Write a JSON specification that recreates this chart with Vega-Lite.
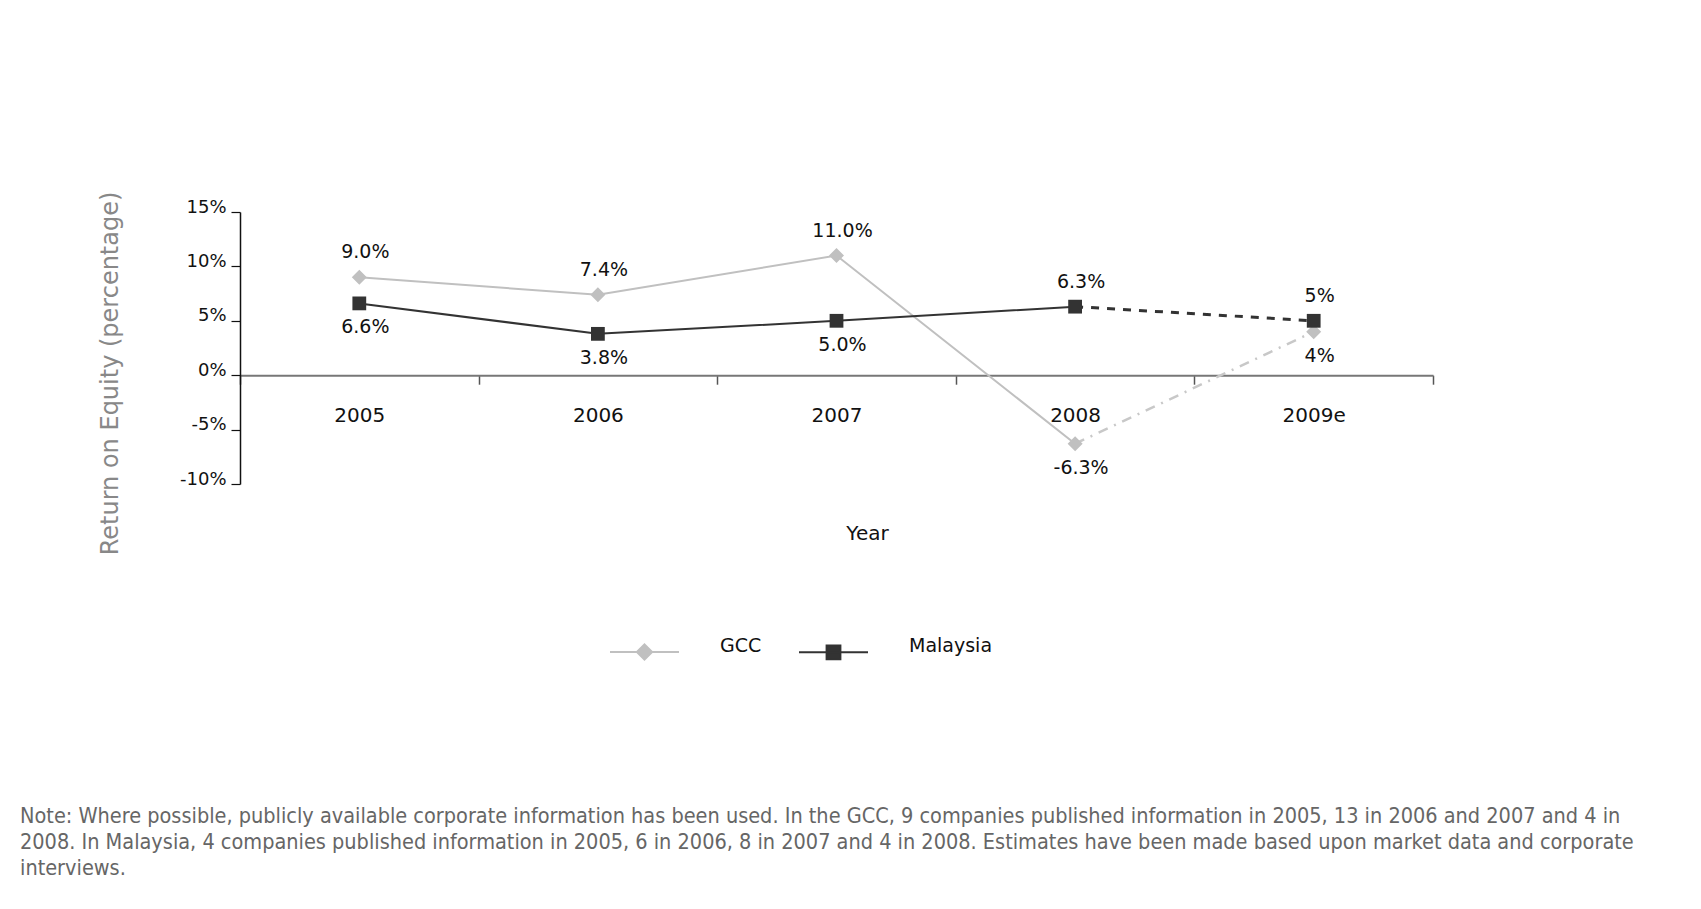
{
  "$schema": "https://vega.github.io/schema/vega-lite/v6.json",
  "autosize": "none",
  "width": 1193,
  "height": 272,
  "padding": {"left": 240, "top": 212, "right": 268, "bottom": 425},
  "background": "white",
  "config": {"view": {"stroke": null}, "font": "DejaVu Sans"},
  "title": {
    "text": [
      "Note: Where possible, publicly available corporate information has been used. In the GCC, 9 companies published information in 2005, 13 in 2006 and 2007 and 4 in",
      "2008. In Malaysia, 4 companies published information in 2005, 6 in 2006, 8 in 2007 and 4 in 2008. Estimates have been made based upon market data and corporate",
      "interviews."
    ],
    "orient": "bottom",
    "anchor": "start",
    "frame": "group",
    "dx": -220,
    "offset": 142,
    "font": "Liberation Sans Narrow, DejaVu Sans Condensed, Lato",
    "fontSize": 21.5,
    "fontWeight": "normal",
    "color": "#666666",
    "lineHeight": 26
  },
  "data": {
    "values": [
      {"year": "2005", "series": "GCC", "roe": 9.0, "label": "9.0%"},
      {"year": "2006", "series": "GCC", "roe": 7.4, "label": "7.4%"},
      {"year": "2007", "series": "GCC", "roe": 11.0, "label": "11.0%"},
      {"year": "2008", "series": "GCC", "roe": -6.3, "label": "-6.3%"},
      {"year": "2009e", "series": "GCC", "roe": 4, "label": "4%"},
      {"year": "2005", "series": "Malaysia", "roe": 6.6, "label": "6.6%"},
      {"year": "2006", "series": "Malaysia", "roe": 3.8, "label": "3.8%"},
      {"year": "2007", "series": "Malaysia", "roe": 5.0, "label": "5.0%"},
      {"year": "2008", "series": "Malaysia", "roe": 6.3, "label": "6.3%"},
      {"year": "2009e", "series": "Malaysia", "roe": 5, "label": "5%"}
    ]
  },
  "encoding": {
    "x": {
      "field": "year",
      "type": "ordinal",
      "bandPosition": 0.5,
      "scale": {"type": "band", "domain": ["2005", "2006", "2007", "2008", "2009e"], "paddingInner": 0, "paddingOuter": 0},
      "axis": {
        "title": "Year",
        "orient": "bottom",
        "offset": -108.8,
        "domainColor": "#777777",
        "domainWidth": 2,
        "tickColor": "#555555",
        "tickSize": 9,
        "tickWidth": 1.5,
        "tickBand": "extent",
        "labelAngle": 0,
        "labelFontSize": 20,
        "labelColor": "#111111",
        "labelPadding": 21,
        "titleFontSize": 20,
        "titleFontWeight": "normal",
        "titleColor": "#111111",
        "titleX": 627,
        "titleY": 158,
        "titleBaseline": "middle",
        "grid": false
      }
    },
    "y": {
      "field": "roe",
      "type": "quantitative",
      "scale": {"domain": [-10, 15], "nice": false, "zero": false},
      "axis": {
        "title": "Return on Equity (percentage)",
        "values": [-10, -5, 0, 5, 10, 15],
        "labelExpr": "datum.value + '%'",
        "domainColor": "#111111",
        "domainWidth": 1.5,
        "tickColor": "#111111",
        "tickSize": 9,
        "tickWidth": 1.2,
        "labelFontSize": 18,
        "labelColor": "#111111",
        "labelPadding": 5,
        "labelBaseline": "alphabetic",
        "grid": false,
        "titleFontSize": 24,
        "titleColor": "#888888",
        "titleFontWeight": "normal",
        "titleX": -130,
        "titleY": 161,
        "titleAngle": -90,
        "titleBaseline": "middle",
        "titleAlign": "center"
      }
    }
  },
  "layer": [
    {
      "transform": [{"filter": "datum.series == 'GCC' && datum.year != '2009e'"}],
      "mark": {"type": "line", "color": "#c0c0c0", "strokeWidth": 2}
    },
    {
      "transform": [{"filter": "datum.series == 'GCC' && (datum.year == '2008' || datum.year == '2009e')"}],
      "mark": {"type": "line", "color": "#c8c8c8", "strokeWidth": 2.5, "strokeDash": [10, 7, 2, 7]}
    },
    {
      "transform": [{"filter": "datum.series == 'Malaysia' && datum.year != '2009e'"}],
      "mark": {"type": "line", "color": "#333333", "strokeWidth": 2}
    },
    {
      "transform": [{"filter": "datum.series == 'Malaysia' && (datum.year == '2008' || datum.year == '2009e')"}],
      "mark": {"type": "line", "color": "#333333", "strokeWidth": 3, "strokeDash": [8, 8]}
    },
    {
      "transform": [{"filter": "datum.series == 'GCC'"}],
      "mark": {"type": "point", "shape": "diamond", "filled": true, "size": 225, "color": "#c0c0c0", "opacity": 1}
    },
    {
      "transform": [{"filter": "datum.series == 'Malaysia'"}],
      "mark": {"type": "point", "shape": "square", "filled": true, "size": 190, "color": "#333333", "opacity": 1}
    },
    {
      "transform": [{"filter": "(datum.series == 'GCC' && datum.year != '2008' && datum.year != '2009e') || (datum.series == 'Malaysia' && (datum.year == '2008' || datum.year == '2009e'))"}],
      "mark": {"type": "text", "fontSize": 19, "color": "#111111", "dx": 6, "dy": -25, "baseline": "middle"},
      "encoding": {"text": {"field": "label"}}
    },
    {
      "transform": [{"filter": "!((datum.series == 'GCC' && datum.year != '2008' && datum.year != '2009e') || (datum.series == 'Malaysia' && (datum.year == '2008' || datum.year == '2009e')))"}],
      "mark": {"type": "text", "fontSize": 19, "color": "#111111", "dx": 6, "dy": 24, "baseline": "middle"},
      "encoding": {"text": {"field": "label"}}
    },
    {
      "transform": [{"filter": "false"}],
      "mark": {"type": "point", "filled": true, "size": 4761, "opacity": 1, "strokeWidth": 2},
      "encoding": {
        "fill": {
          "field": "series",
          "type": "nominal",
          "scale": {"domain": ["GCC", "Malaysia"], "range": ["#c0c0c0", "#333333"]},
          "legend": {
            "orient": "none",
            "legendX": 369,
            "legendY": 404,
            "direction": "horizontal",
            "title": null,
            "symbolSize": 4761,
            "symbolStrokeWidth": 2,
            "labelFontSize": 19,
            "labelColor": "#111111",
            "labelOffset": 40,
            "labelBaseline": "alphabetic",
            "columnPadding": 33,
            "padding": 0
          }
        },
        "stroke": {
          "field": "series",
          "type": "nominal",
          "scale": {"domain": ["GCC", "Malaysia"], "range": ["#c0c0c0", "#333333"]},
          "legend": {
            "orient": "none",
            "legendX": 369,
            "legendY": 404,
            "direction": "horizontal",
            "title": null,
            "symbolSize": 4761,
            "symbolStrokeWidth": 2,
            "labelFontSize": 19,
            "labelColor": "#111111",
            "labelOffset": 40,
            "labelBaseline": "alphabetic",
            "columnPadding": 33,
            "padding": 0
          }
        },
        "shape": {
          "field": "series",
          "type": "nominal",
          "scale": {"domain": ["GCC", "Malaysia"], "range": ["M-1,0H1M-0.22,0L0,-0.22L0.22,0L0,0.22Z", "M-1,0H1M-0.2,-0.2H0.2V0.2H-0.2Z"]},
          "legend": {
            "orient": "none",
            "legendX": 369,
            "legendY": 404,
            "direction": "horizontal",
            "title": null,
            "symbolSize": 4761,
            "symbolStrokeWidth": 2,
            "labelFontSize": 19,
            "labelColor": "#111111",
            "labelOffset": 40,
            "labelBaseline": "alphabetic",
            "columnPadding": 33,
            "padding": 0
          }
        }
      }
    }
  ]
}
